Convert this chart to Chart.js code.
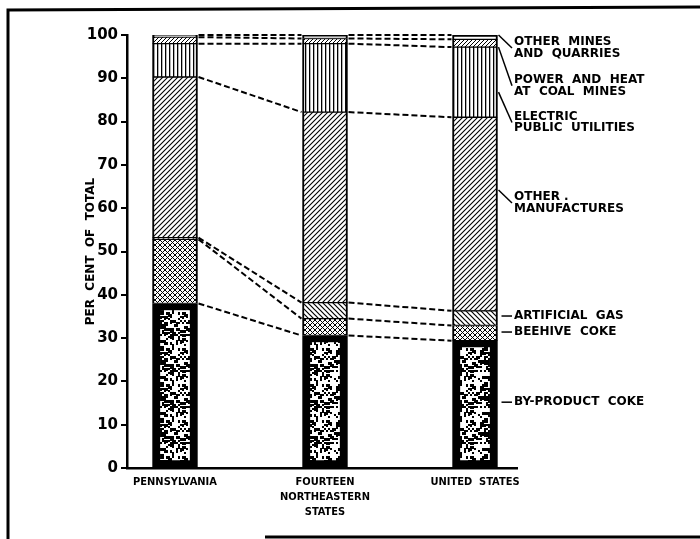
<!DOCTYPE html>
<html>
<head>
<meta charset="utf-8">
<script src="https://cdn.jsdelivr.net/npm/chart.js@4.4.1/dist/chart.umd.min.js"></script>
<style>
  html, body { margin: 0; padding: 0; background: #fff; }
  #c { display: block; }
</style>
</head>
<body>
<canvas id="c" width="700" height="539"></canvas>
<script>
// Regions (bars) and their slot on the x scale
var regions = [['PENNSYLVANIA'], ['FOURTEEN', 'NORTHEASTERN', 'STATES'], ['UNITED  STATES']];
var regionPos = [0, 1, 2];

// Per cent of total coal consumption, bottom to top
var byProductCoke      = [38.0, 30.6, 29.4];
var beehiveCoke        = [14.8, 3.9, 3.5];
var artificialGas      = [0.4, 3.7, 3.4];
var otherManufactures  = [37.1, 44.0, 44.7];
var electricUtilities  = [7.7, 15.8, 16.2];
var powerHeatCoalMines = [1.5, 1.2, 1.8];
var otherMinesQuarries = [0.5, 0.8, 1.0];

var yTicks = [0, 10, 20, 30, 40, 50, 60, 70, 80, 90, 100];

// Right-hand labels, bottom to top
var sectorLabels = [
  ['BY-PRODUCT  COKE'],
  ['BEEHIVE  COKE'],
  ['ARTIFICIAL  GAS'],
  ['OTHER .', 'MANUFACTURES'],
  ['ELECTRIC', 'PUBLIC  UTILITIES'],
  ['POWER  AND  HEAT', 'AT  COAL  MINES'],
  ['OTHER  MINES', 'AND  QUARRIES']
];
// where each leader leaves the last bar, and where its text block is centred (y units)
var leaderFrom = [15.2, 31.4, 35.1, 64.2, 86.8, 97.2, 100];
var labelAt    = [15.2, 31.4, 35.1, 61.2, 79.8, 88.3, 97.0];

var ctx = document.getElementById('c').getContext('2d');

function tile(w, h, draw) {
  var c = document.createElement('canvas');
  c.width = w; c.height = h;
  var g = c.getContext('2d');
  g.fillStyle = '#fff';
  g.fillRect(0, 0, w, h);
  g.strokeStyle = '#000';
  g.fillStyle = '#000';
  draw(g, w, h);
  return ctx.createPattern(c, 'repeat');
}

function slash(g, s, lw) {
  g.lineWidth = lw;
  g.beginPath();
  g.moveTo(-1, s + 1); g.lineTo(s + 1, -1);
  g.moveTo(-2, 2); g.lineTo(2, -2);
  g.moveTo(s - 2, s + 2); g.lineTo(s + 2, s - 2);
  g.stroke();
}
function backslash(g, s, lw) {
  g.lineWidth = lw;
  g.beginPath();
  g.moveTo(-1, -1); g.lineTo(s + 1, s + 1);
  g.moveTo(s - 2, -2); g.lineTo(s + 2, 2);
  g.moveTo(-2, s - 2); g.lineTo(2, s + 2);
  g.stroke();
}

// mottled texture of the by-product coke segment
var patSpeckle = tile(36, 36, function (g, w, h) {
  for (var y = 0; y < h; y += 2) {
    for (var x = 0; x < w; x += 2) {
      var n = Math.sin(x * 12.9898 + y * 78.233) * 43758.5453;
      n = n - Math.floor(n);
      if (n > 0.64) g.fillRect(x, y, n > 0.88 ? 4 : 2, n > 0.8 ? 3 : 2);
    }
  }
});
var patCross = tile(5, 5, function (g, w) { slash(g, w, 1); backslash(g, w, 1); });
var patBack = tile(5, 5, function (g, w) { backslash(g, w, 1.2); });
var patSlash = tile(5, 5, function (g, w) { slash(g, w, 1.1); });
var patVert = tile(4, 4, function (g) { g.fillRect(1, 0, 1.3, 4); });
var patFine = tile(4, 4, function (g, w) { slash(g, w, 1); });

function series(vals) {
  return vals.map(function (v, i) { return { x: regionPos[i], y: v }; });
}

var thinBorder = { left: 2, right: 2, top: 1, bottom: 1 };

var datasets = [
  { label: 'By-product coke', data: series(byProductCoke), backgroundColor: patSpeckle,
    borderWidth: { left: 8, right: 8, top: 7, bottom: 7 } },
  { label: 'Beehive coke', data: series(beehiveCoke), backgroundColor: patCross, borderWidth: thinBorder },
  { label: 'Artificial gas', data: series(artificialGas), backgroundColor: patBack, borderWidth: thinBorder },
  { label: 'Other manufactures', data: series(otherManufactures), backgroundColor: patSlash, borderWidth: thinBorder },
  { label: 'Electric public utilities', data: series(electricUtilities), backgroundColor: patVert, borderWidth: thinBorder },
  { label: 'Power and heat at coal mines', data: series(powerHeatCoalMines), backgroundColor: patFine, borderWidth: thinBorder },
  { label: 'Other mines and quarries', data: series(otherMinesQuarries), backgroundColor: '#fff',
    borderWidth: { left: 2, right: 2, top: 2, bottom: 1 } }
];
datasets.forEach(function (d) {
  d.borderColor = '#000';
  d.borderSkipped = false;
  d.barThickness = 45;
});

var connectors = {
  id: 'connectors',
  afterDatasetsDraw: function (chart) {
    var c = chart.ctx;
    c.save();
    c.strokeStyle = '#000';
    c.lineWidth = 2;
    c.setLineDash([6, 3]);
    chart.data.datasets.forEach(function (d, k) {
      var bars = chart.getDatasetMeta(k).data;
      for (var i = 0; i < bars.length - 1; i++) {
        var a = bars[i], b = bars[i + 1];
        c.beginPath();
        c.moveTo(a.x + a.width / 2 + 1, a.y);
        c.lineTo(b.x - b.width / 2 - 1, b.y);
        c.stroke();
      }
    });
    c.restore();
  }
};

var sideLabels = {
  id: 'sideLabels',
  afterDraw: function (chart) {
    var c = chart.ctx;
    var ys = chart.scales.y;
    var bars = chart.getDatasetMeta(0).data;
    var last = bars[bars.length - 1];
    var x0 = last.x + last.width / 2 + 1;
    var tx = 514;
    c.save();
    c.strokeStyle = '#000';
    c.fillStyle = '#000';
    c.lineWidth = 1.5;
    c.font = 'bold 12px "DejaVu Sans", sans-serif';
    c.textBaseline = 'middle';
    c.textAlign = 'left';
    sectorLabels.forEach(function (lines, i) {
      var yc = ys.getPixelForValue(labelAt[i]);
      var yf = ys.getPixelForValue(leaderFrom[i]);
      c.beginPath();
      c.moveTo(lines.length > 1 ? x0 : x0 + 3, yf);
      c.lineTo(tx - 2, yc);
      c.stroke();
      var lh = 11.5;
      var top = yc - (lines.length - 1) * lh / 2;
      lines.forEach(function (t, j) { c.fillText(t, tx, top + j * lh); });
    });
    // outer frame of the figure
    c.lineWidth = 3;
    c.beginPath();
    c.moveTo(8, 539); c.lineTo(8, 10); c.lineTo(700, 7);
    c.moveTo(265, 537); c.lineTo(700, 537);
    c.stroke();
    c.restore();
  }
};

new Chart(ctx, {
  type: 'bar',
  data: { datasets: datasets },
  options: {
    responsive: false,
    animation: false,
    devicePixelRatio: 1,
    layout: { padding: { left: 0, top: 35, right: 183, bottom: 0 } },
    plugins: { legend: { display: false }, tooltip: { enabled: false } },
    scales: {
      x: {
        type: 'linear',
        offset: false,
        min: -0.32,
        max: 2.28,
        stacked: true,
        afterBuildTicks: function (s) { s.ticks = regionPos.map(function (v) { return { value: v }; }); },
        afterFit: function (s) { s.height = 71; },
        ticks: {
          autoSkip: false,
          maxRotation: 0,
          padding: 7,
          color: '#000',
          font: { family: '"Liberation Sans Narrow", "DejaVu Sans Condensed", sans-serif', size: 11, weight: 'bold', lineHeight: 1.35 },
          callback: function (v) { return regions[v]; }
        },
        grid: { offset: false, drawOnChartArea: false, drawTicks: false },
        border: { color: '#000', width: 2.5 }
      },
      y: {
        min: 0,
        max: 100,
        stacked: true,
        afterBuildTicks: function (s) { s.ticks = yTicks.map(function (v) { return { value: v }; }); },
        afterFit: function (s) { s.width = 127; },
        ticks: {
          padding: 3,
          color: '#000',
          font: { family: '"DejaVu Sans", sans-serif', size: 15, weight: 'bold' }
        },
        grid: { drawOnChartArea: false, tickLength: 6, color: '#000', lineWidth: 2 },
        border: { color: '#000', width: 2.5 },
        title: {
          display: true,
          text: 'PER  CENT  OF  TOTAL',
          color: '#000',
          font: { family: '"DejaVu Sans", sans-serif', size: 12, weight: 'bold' },
          padding: { top: 84, bottom: 0 }
        }
      }
    }
  },
  plugins: [connectors, sideLabels]
});
</script>
</body>
</html>
